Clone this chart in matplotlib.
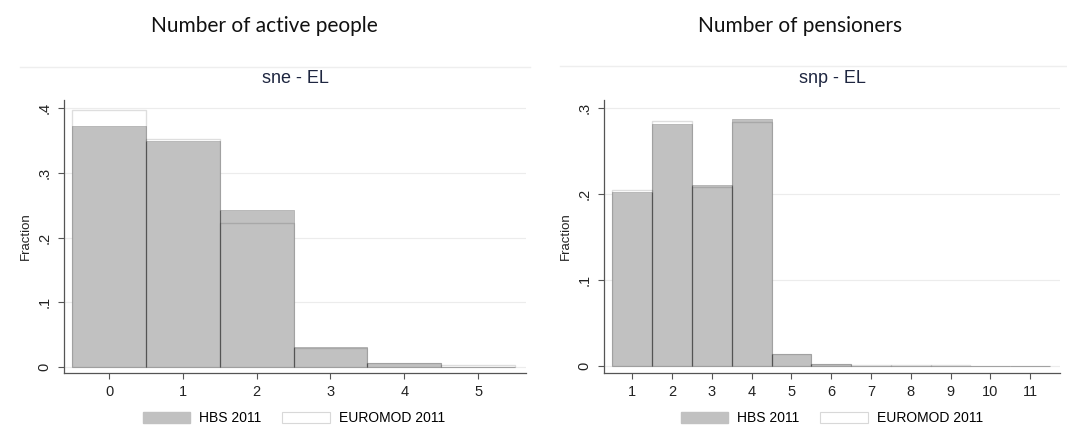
import matplotlib.pyplot as plt
from matplotlib.patches import Patch
from matplotlib.lines import Line2D

# household composition histograms (fractions per count)
sne_bins = [0, 1, 2, 3, 4, 5]
sne_hbs = [0.373, 0.349, 0.243, 0.030, 0.005, 0.000]
sne_euromod = [0.397, 0.352, 0.222, 0.029, 0.005, 0.002]

snp_bins = [1, 2, 3, 4, 5, 6, 7, 8, 9, 10, 11]
snp_hbs = [0.202, 0.281, 0.210, 0.287, 0.014, 0.003, 0.001, 0.0005, 0.0005, 0.0002, 0.0002]
snp_euromod = [0.205, 0.285, 0.208, 0.284, 0.014, 0.003, 0.002, 0.0012, 0.0012, 0.0005, 0.0005]

sne_yticks = [0, 0.1, 0.2, 0.3, 0.4]
sne_ylabels = ['0', '.1', '.2', '.3', '.4']
snp_yticks = [0, 0.1, 0.2, 0.3]
snp_ylabels = ['0', '.1', '.2', '.3']

legend_labels = ['HBS 2011', 'EUROMOD 2011']

W, H = 1067, 441
HBS_FILL = '#c1c1c1'
TICK_FONT = 'Liberation Sans'

fig = plt.figure(figsize=(W / 100, H / 100), dpi=100)


def px_axes(x0, x1, y_top, y_bot):
    return fig.add_axes([x0 / W, 1 - y_bot / H, (x1 - x0) / W, (y_bot - y_top) / H])


def draw_hist(ax, bins, hbs, euro, xlim, ylim, yticks, ylabels, title):
    ax.bar(bins, hbs, width=1.0, color=HBS_FILL, edgecolor='#b2b2b2', linewidth=0.6, zorder=2)
    # darker dividers between neighbouring bars
    for i in range(len(bins) - 1):
        h = min(hbs[i], hbs[i + 1])
        if h > 0:
            ax.vlines(bins[i] + 0.5, 0, h, color='#707070', linewidth=0.8, zorder=2.5)
    ax.bar(bins, euro, width=1.0, fill=False, edgecolor=(0, 0, 0, 0.13), linewidth=1.0, zorder=3)
    ax.set_xlim(*xlim)
    ax.set_ylim(*ylim)
    ax.set_xticks(bins)
    ax.set_xticklabels([str(b) for b in bins], fontsize=10.5, family=TICK_FONT, color='#222222')
    ax.set_yticks(yticks)
    ax.set_yticklabels(ylabels, rotation=90, va='center', fontsize=10.5, family=TICK_FONT, color='#222222')
    ax.tick_params(axis='both', length=4, width=0.8, color='#555555', pad=5)
    ax.yaxis.grid(True, color='#ececec', linewidth=0.8, zorder=0)
    ax.set_axisbelow(True)
    for s in ['top', 'right']:
        ax.spines[s].set_visible(False)
    for s in ['left', 'bottom']:
        ax.spines[s].set_color('#555555')
        ax.spines[s].set_linewidth(0.9)
    ax.set_ylabel('Fraction', fontsize=9.5, family=TICK_FONT, color='#222222', labelpad=4)
    ax.set_title(title, fontsize=13, family=TICK_FONT, color='#1e2640', pad=12)


ax1 = px_axes(64, 526, 100, 373)
draw_hist(ax1, sne_bins, sne_hbs, sne_euromod, (-0.61, 5.65), (-0.0098, 0.413),
          sne_yticks, sne_ylabels, 'sne - EL')

ax2 = px_axes(604, 1060, 100, 373)
draw_hist(ax2, snp_bins, snp_hbs, snp_euromod, (0.29, 11.75), (-0.0077, 0.3092),
          snp_yticks, snp_ylabels, 'snp - EL')

handles = [Patch(facecolor=HBS_FILL, edgecolor=HBS_FILL),
           Patch(facecolor='white', edgecolor='#d8d8d8', linewidth=0.8)]
for x_left in (143, 681):
    fig.legend(handles, legend_labels, ncol=2, loc='center left',
               bbox_to_anchor=(x_left / W, 1 - 418 / H), frameon=False,
               prop={'family': TICK_FONT, 'size': 10},
               handlelength=3.4, handleheight=0.87, handletextpad=0.65,
               columnspacing=1.5, borderpad=0, borderaxespad=0)

# faint top borders of the graph regions
fig.add_artist(Line2D([20 / W, 530 / W], [1 - 67 / H] * 2, color='#eeeeee', linewidth=1))
fig.add_artist(Line2D([560 / W, 1067 / W], [1 - 66 / H] * 2, color='#eeeeee', linewidth=1))

# panel headings
fig.text(264 / W, 1 - 26 / H, 'Number of active people', ha='center', va='center',
         fontsize=15, family='Lato', color='#111111')
fig.text(800 / W, 1 - 26 / H, 'Number of pensioners', ha='center', va='center',
         fontsize=15, family='Lato', color='#111111')

fig.savefig('out.png', dpi=100)
